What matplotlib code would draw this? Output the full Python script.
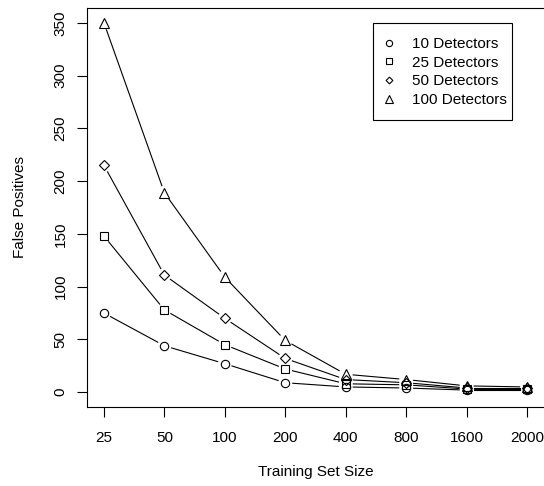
import matplotlib
matplotlib.use("Agg")
import matplotlib.pyplot as plt
from matplotlib.patches import Rectangle
import numpy as np

plt.rcParams['font.family'] = ['Liberation Sans', 'DejaVu Sans']

sizes = ["25", "50", "100", "200", "400", "800", "1600", "2000"]
det10 = [75, 44, 27, 9, 5, 4, 2, 2]
det25 = [148, 78, 45, 22, 8, 7, 3, 3]
det50 = [215, 111, 70, 32, 12, 9, 4, 4]
det100 = [350, 189, 109, 49, 17, 12, 6, 5]
labels = ["10 Detectors", "25 Detectors", "50 Detectors", "100 Detectors"]
markers = ["o", "s", "D", "^"]
msizes = [6, 5.2, 4.6, 7]

W, H = 544, 486
fig = plt.figure(figsize=(W / 100, H / 100), dpi=100)
ax = fig.add_axes([87 / W, 79 / H, 457 / W, 399 / H])
x = np.arange(1, len(sizes) + 1)
ax.set_xlim(0.72, 8.28)
ax.set_ylim(-14, 364)

gap = 7.5  # px gap at each end, like R type="b"
handles = []
for ys, m, ms, lab in zip([det10, det25, det50, det100], markers, msizes, labels):
    pts = ax.transData.transform(np.column_stack([x, ys]))
    for p0, p1 in zip(pts[:-1], pts[1:]):
        d = p1 - p0
        L = np.hypot(*d)
        if L <= 2 * gap:
            continue
        u = d / L
        a = ax.transData.inverted().transform([p0 + u * gap, p1 - u * gap])
        ax.plot(a[:, 0], a[:, 1], color="black", lw=0.8)
    h, = ax.plot(x, ys, linestyle="none", marker=m, ms=ms,
                 mfc="none", mec="black", mew=0.8, label=lab)
    handles.append(h)

ax.spines["right"].set_visible(False)
for s in ["left", "bottom", "top"]:
    ax.spines[s].set_linewidth(0.8)
ax.set_xticks(x)
ax.set_xticklabels(sizes)
ax.set_yticks(np.arange(0, 351, 50))
ax.set_yticklabels([str(v) for v in range(0, 351, 50)], rotation=90, va="center")
ax.tick_params(labelsize=11, length=7, width=0.8, color="black")
ax.tick_params(axis="x", pad=10)
ax.tick_params(axis="y", pad=7)
ax.set_xlabel("Training Set Size", fontsize=11, labelpad=15)
ax.set_ylabel("False Positives", fontsize=11, labelpad=19)

leg = fig.legend(handles=handles, loc="center", bbox_to_anchor=(444 / W, 1 - 72 / H),
                 fontsize=11, frameon=False, handlelength=1.0, handletextpad=1.0,
                 labelspacing=0.3, markerscale=0.75)
fig.patches.append(Rectangle((373 / W, 1 - 120 / H), 139 / W, 97 / H,
                             transform=fig.transFigure, fill=False,
                             edgecolor="black", lw=0.8))

fig.savefig("out.png", dpi=100)
